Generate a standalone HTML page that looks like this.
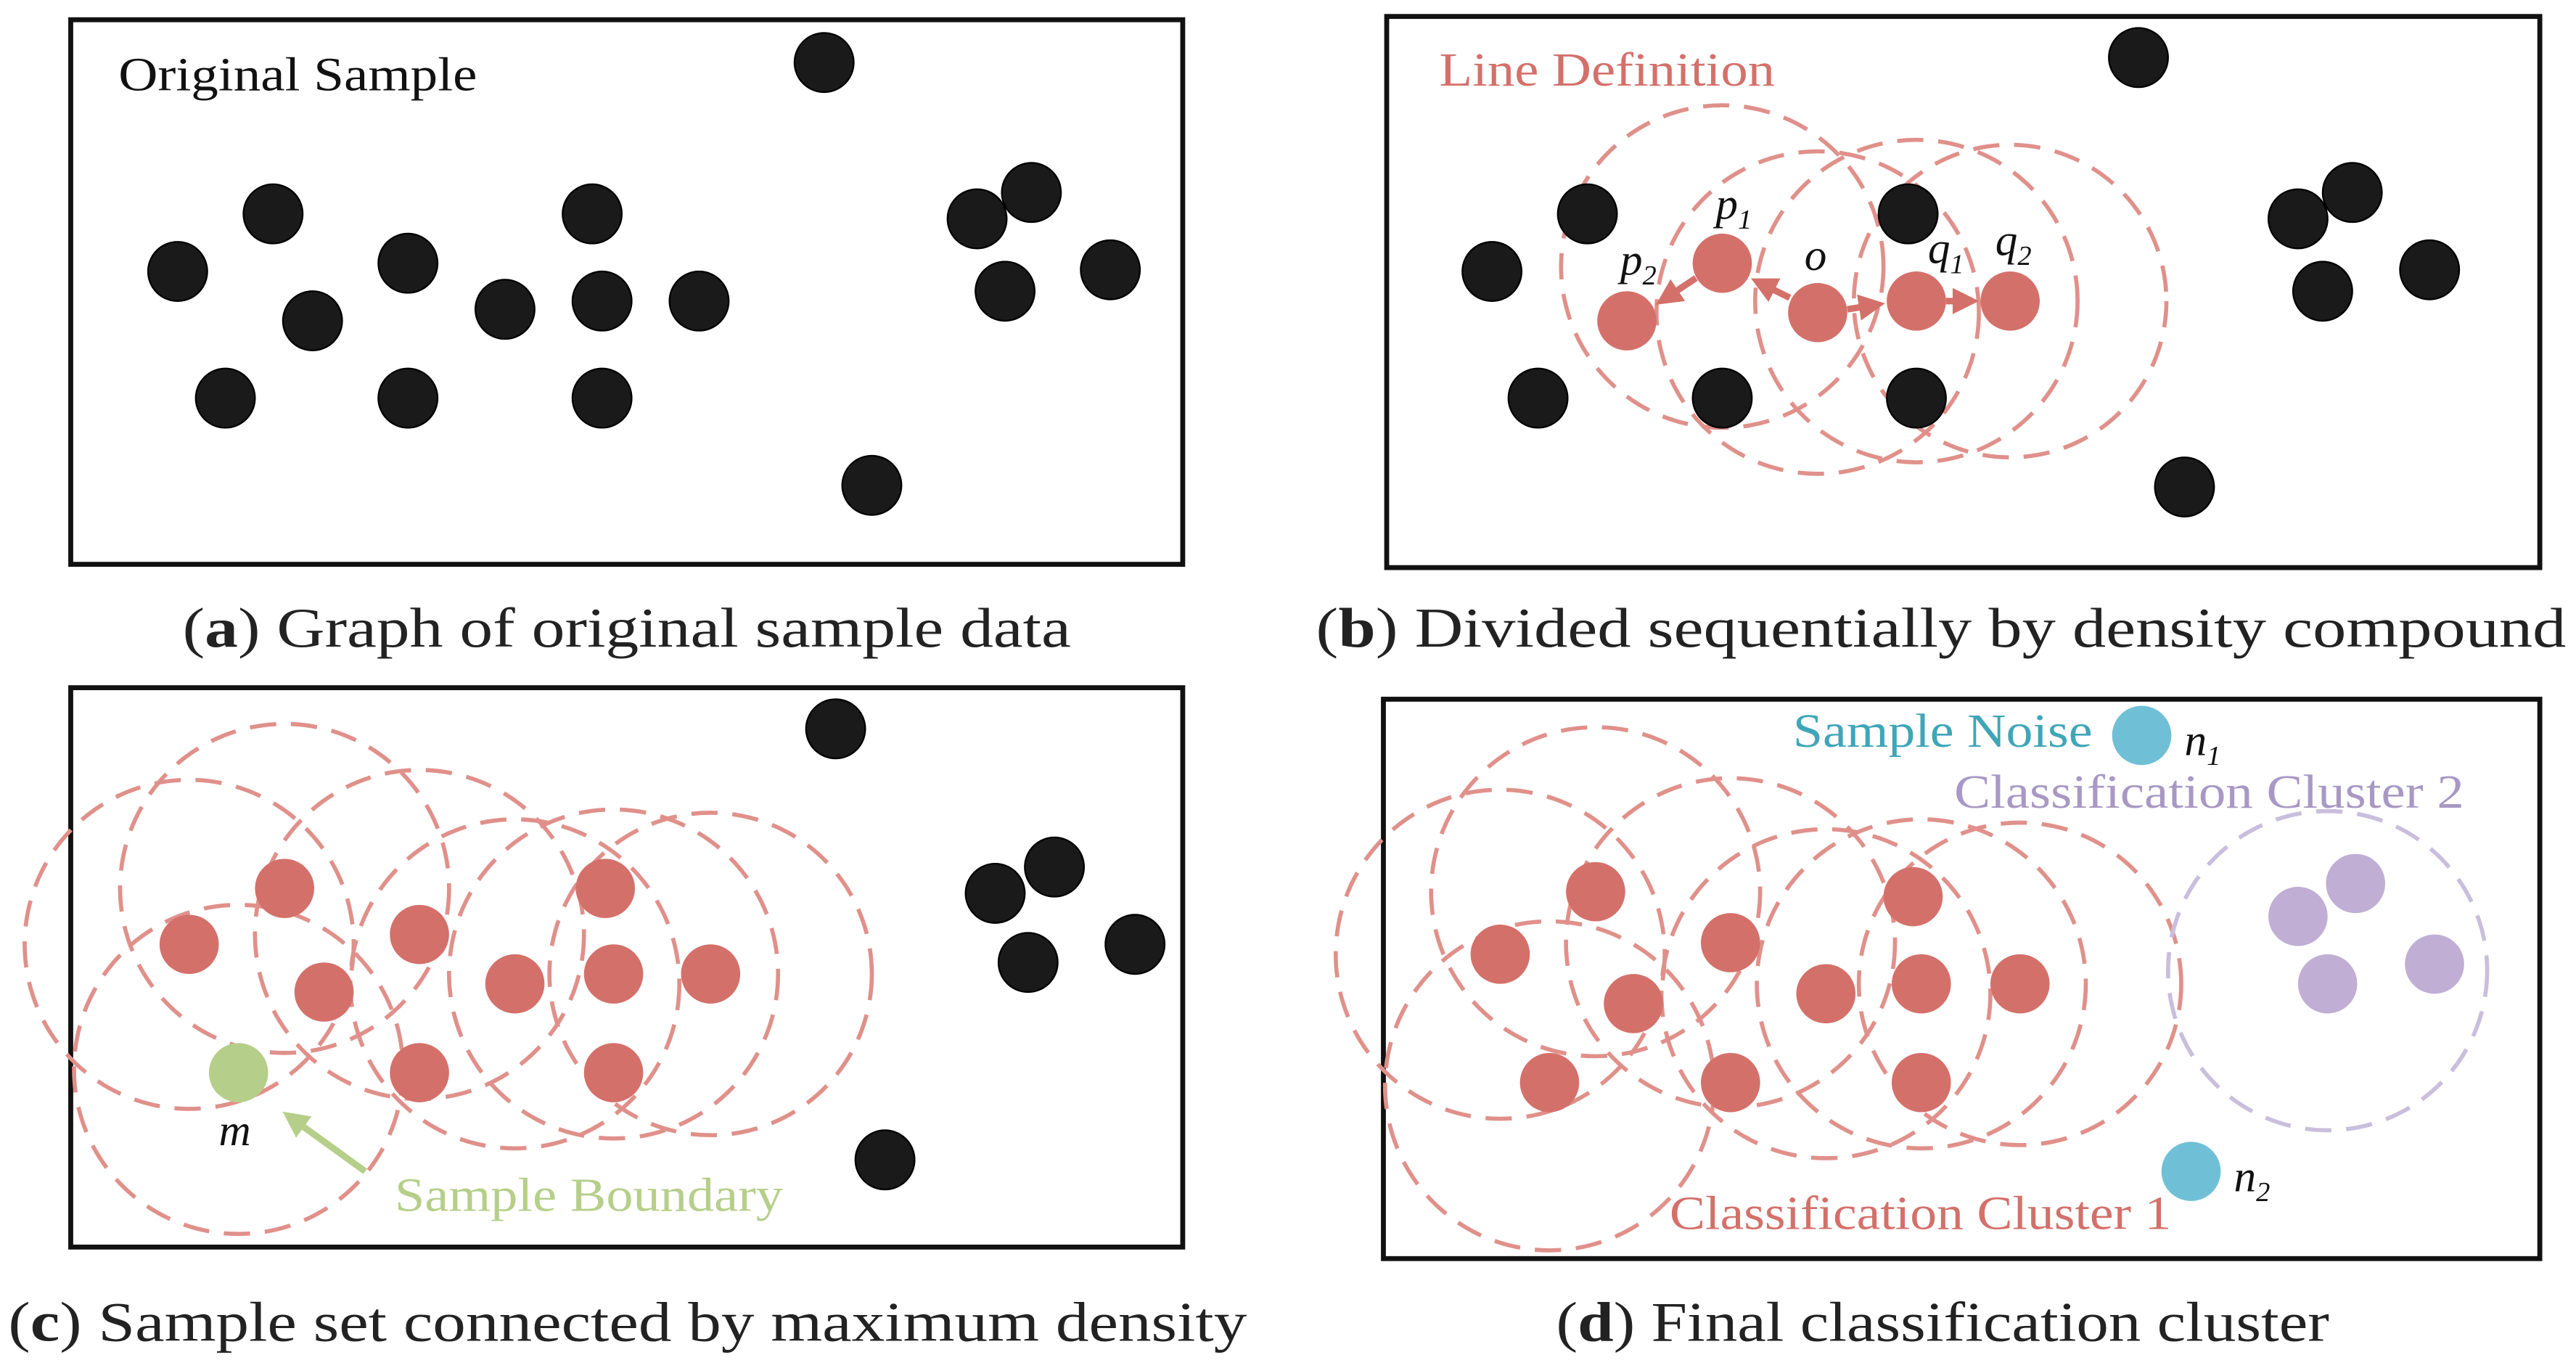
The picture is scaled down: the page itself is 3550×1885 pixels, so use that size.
<!DOCTYPE html>
<html><head><meta charset="utf-8"><style>
html,body{margin:0;padding:0;background:#fff;}
svg{display:block;}
text{font-family:"Liberation Serif",serif;}
</style></head><body>
<svg width="3550" height="1885" viewBox="0 0 1566 831.5" preserveAspectRatio="none" xmlns="http://www.w3.org/2000/svg">
<defs>
<marker id="ar" markerWidth="4" markerHeight="4" refX="3" refY="2" orient="auto" markerUnits="strokeWidth"><path d="M0,0 L4,2 L0,4 z" fill="#d4706a"/></marker>
<marker id="ag" markerWidth="4" markerHeight="4" refX="3" refY="2" orient="auto" markerUnits="strokeWidth"><path d="M0,0 L4,2 L0,4 z" fill="#b5cf8a"/></marker>
</defs>
<g fill="none" stroke="#111" stroke-width="3">
<rect x="43" y="12" width="676" height="331"/>
<rect x="843" y="10" width="701" height="335"/>
<rect x="43" y="418" width="676" height="340"/>
<rect x="841" y="425" width="703" height="340"/>
</g>
<g fill="none" stroke="#e0908a" stroke-width="2.5" stroke-dasharray="16,9">
<circle cx="1047" cy="162" r="98"/><circle cx="1105" cy="190" r="98"/><circle cx="1165" cy="183" r="98"/><circle cx="1222" cy="183" r="95"/>
<circle cx="173" cy="540" r="100"/><circle cx="115" cy="574" r="100"/><circle cx="255" cy="568" r="100"/><circle cx="313" cy="598" r="100"/><circle cx="373" cy="592" r="100"/><circle cx="432" cy="592" r="98"/><circle cx="145" cy="650" r="100"/>
<circle cx="970" cy="542" r="100"/><circle cx="912" cy="580" r="100"/><circle cx="1052" cy="573" r="100"/><circle cx="1110" cy="604" r="100"/><circle cx="1168" cy="598" r="100"/><circle cx="1228" cy="598" r="98"/><circle cx="942" cy="660" r="100"/>
</g>
<circle cx="1415" cy="590" r="97" fill="none" stroke="#c9bedc" stroke-width="2.5" stroke-dasharray="16,9"/>
<g fill="#1a1a1a" stroke="#000" stroke-width="1">
<circle cx="501" cy="38" r="18"/><circle cx="166" cy="130" r="18"/><circle cx="360" cy="130" r="18"/><circle cx="108" cy="165" r="18"/><circle cx="248" cy="160" r="18"/><circle cx="190" cy="195" r="18"/><circle cx="307" cy="188" r="18"/><circle cx="366" cy="183" r="18"/><circle cx="425" cy="183" r="18"/><circle cx="137" cy="242" r="18"/><circle cx="248" cy="242" r="18"/><circle cx="366" cy="242" r="18"/><circle cx="530" cy="295" r="18"/><circle cx="594" cy="133" r="18"/><circle cx="627" cy="117" r="18"/><circle cx="611" cy="177" r="18"/><circle cx="675" cy="164" r="18"/>
<circle cx="1300" cy="35" r="18"/><circle cx="965" cy="130" r="18"/><circle cx="1160" cy="130" r="18"/><circle cx="907" cy="165" r="18"/><circle cx="1430" cy="117" r="18"/><circle cx="1397" cy="133" r="18"/><circle cx="1412" cy="177" r="18"/><circle cx="1477" cy="164" r="18"/><circle cx="935" cy="242" r="18"/><circle cx="1047" cy="242" r="18"/><circle cx="1165" cy="242" r="18"/><circle cx="1328" cy="296" r="18"/>
<circle cx="508" cy="443" r="18"/><circle cx="605" cy="543" r="18"/><circle cx="641" cy="527" r="18"/><circle cx="625" cy="585" r="18"/><circle cx="690" cy="574" r="18"/><circle cx="538" cy="705" r="18"/>
</g>
<g fill="#d4706a">
<circle cx="989" cy="195" r="18"/><circle cx="1047" cy="160" r="18"/><circle cx="1105" cy="190" r="18"/><circle cx="1165" cy="183" r="18"/><circle cx="1222" cy="183" r="18"/>
<circle cx="173" cy="540" r="18"/><circle cx="115" cy="574" r="18"/><circle cx="255" cy="568" r="18"/><circle cx="197" cy="603" r="18"/><circle cx="313" cy="598" r="18"/><circle cx="368" cy="540" r="18"/><circle cx="373" cy="592" r="18"/><circle cx="432" cy="592" r="18"/><circle cx="255" cy="652" r="18"/><circle cx="373" cy="652" r="18"/>
<circle cx="970" cy="542" r="18"/><circle cx="912" cy="580" r="18"/><circle cx="1052" cy="573" r="18"/><circle cx="993" cy="610" r="18"/><circle cx="1110" cy="604" r="18"/><circle cx="1163" cy="545" r="18"/><circle cx="1168" cy="598" r="18"/><circle cx="1228" cy="598" r="18"/><circle cx="942" cy="658" r="18"/><circle cx="1052" cy="658" r="18"/><circle cx="1168" cy="658" r="18"/>
</g>
<g stroke="#d4706a" stroke-width="4" fill="none">
<line x1="1088" y1="181" x2="1068" y2="171" marker-end="url(#ar)"/>
<line x1="1031" y1="169" x2="1010" y2="183" marker-end="url(#ar)"/>
<line x1="1123" y1="188" x2="1142" y2="185" marker-end="url(#ar)"/>
<line x1="1183" y1="183" x2="1199" y2="183" marker-end="url(#ar)"/>
</g>
<g fill="#c0aed4"><circle cx="1397" cy="557" r="18"/><circle cx="1432" cy="537" r="18"/><circle cx="1415" cy="598" r="18"/><circle cx="1480" cy="586" r="18"/></g>
<g fill="#6fc0d6"><circle cx="1302" cy="447" r="18"/><circle cx="1332" cy="712" r="18"/></g>
<circle cx="145" cy="652" r="18" fill="#b5cf8a"/>
<line x1="222" y1="712" x2="175" y2="678" stroke="#b5cf8a" stroke-width="4" marker-end="url(#ag)"/>
<text x="72" y="55" font-size="29" fill="#111" textLength="218" lengthAdjust="spacingAndGlyphs">Original Sample</text>
<text x="875" y="52" font-size="29" fill="#d4706a" textLength="204" lengthAdjust="spacingAndGlyphs">Line Definition</text>
<g font-size="27" font-style="italic" fill="#111">
<text x="985" y="167">p<tspan font-size="17" dy="6">2</tspan></text>
<text x="1043" y="133">p<tspan font-size="17" dy="6">1</tspan></text>
<text x="1097" y="164">o</text>
<text x="1172" y="160">q<tspan font-size="17" dy="6">1</tspan></text>
<text x="1213" y="155">q<tspan font-size="17" dy="6">2</tspan></text>
<text x="133" y="696">m</text>
<text x="1328" y="459">n<tspan font-size="17" dy="6">1</tspan></text>
<text x="1358" y="724">n<tspan font-size="17" dy="6">2</tspan></text>
</g>
<text x="240" y="736" font-size="29" fill="#b5cf8a" textLength="236" lengthAdjust="spacingAndGlyphs">Sample Boundary</text>
<text x="1090" y="454" font-size="29" fill="#3fa6b8" textLength="182" lengthAdjust="spacingAndGlyphs">Sample Noise</text>
<text x="1188" y="491" font-size="29" fill="#a898c4" textLength="310" lengthAdjust="spacingAndGlyphs">Classification Cluster 2</text>
<text x="1015" y="747" font-size="29" fill="#d4706a" textLength="305" lengthAdjust="spacingAndGlyphs">Classification Cluster 1</text>
<g font-size="34" fill="#222">
<text x="111" y="393" textLength="540" lengthAdjust="spacingAndGlyphs">(<tspan font-weight="bold">a</tspan>) Graph of original sample data</text>
<text x="800" y="393" textLength="760" lengthAdjust="spacingAndGlyphs">(<tspan font-weight="bold">b</tspan>) Divided sequentially by density compound</text>
<text x="5" y="815" textLength="753" lengthAdjust="spacingAndGlyphs">(<tspan font-weight="bold">c</tspan>) Sample set connected by maximum density</text>
<text x="946" y="815" textLength="470" lengthAdjust="spacingAndGlyphs">(<tspan font-weight="bold">d</tspan>) Final classification cluster</text>
</g>
</svg>
</body></html>
